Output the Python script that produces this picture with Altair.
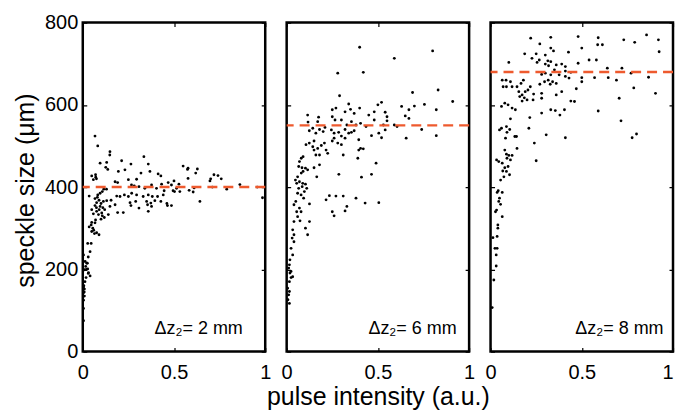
import altair as alt
import pandas as pd

# ---------------- data ----------------
panel_labels = ["\u0394z\u2082= 2 mm", "\u0394z\u2082= 6 mm", "\u0394z\u2082= 8 mm"]
ref_levels = [400, 550, 680]

p1_x = [0.067, 0.082, 0.149, 0.148, 0.095, 0.213, 0.264, 0.335, 0.359, 0.131, 0.126, 0.137, 0.195, 0.231, 0.368,
        0.049, 0.071, 0.058, 0.319, 0.25, 0.295, 0.413, 0.428, 0.55, 0.574, 0.577, 0.177, 0.191, 0.267, 0.282,
        0.308, 0.34, 0.377, 0.404, 0.432, 0.468, 0.486, 0.514, 0.532, 0.495, 0.446, 0.107, 0.095, 0.082, 0.035,
        0.186, 0.204, 0.228, 0.25, 0.268, 0.295, 0.331, 0.359, 0.381, 0.41, 0.441, 0.067, 0.089, 0.076, 0.113,
        0.131, 0.155, 0.259, 0.29, 0.35, 0.373, 0.395, 0.428, 0.067, 0.095, 0.149, 0.177, 0.264, 0.308, 0.355,
        0.377, 0.464, 0.486, 0.049, 0.076, 0.104, 0.058, 0.086, 0.107, 0.118, 0.1, 0.14, 0.191, 0.222, 0.359,
        0.049, 0.046, 0.067, 0.035, 0.049, 0.064, 0.076, 0.089, 0.027, 0.046, 0.04, 0.004, 0.013, 0.022, 0.016,
        0.027, 0.009, 0.031, 0.04, 0.004, 0.009, 0.004, 0.009, 0.004, 0.004,
        0.577, 0.628, 0.619, 0.701, 0.697, 0.719, 0.741, 0.759, 0.71, 0.789, 0.861, 0.956, 0.985, 0.642, 0.61,
        0.583, 0.605, 0.5, 0.527, 0.503, 0.461,
        0.02, 0.025, 0.03, 0.018, 0.012, 0.006, 0.004, 0.008, 0.03, 0.055, 0.06, 0.07, 0.075, 0.08, 0.09, 0.1,
        0.11, 0.12, 0.115, 0.13, 0.07, 0.075]
p1_y = [524, 500, 486, 478, 458, 464, 456, 474, 456, 460, 448, 443, 438, 442, 438,
        427, 424, 418, 434, 418, 419, 432, 427, 451, 443, 421, 413, 411, 405, 403,
        401, 397, 405, 397, 407, 411, 405, 397, 389, 391, 391, 389, 385, 381, 378,
        378, 377, 381, 377, 385, 381, 377, 381, 377, 377, 381, 372, 368, 362, 365,
        367, 368, 362, 365, 365, 361, 367, 365, 355, 353, 353, 357, 355, 349, 357,
        353, 355, 355, 345, 341, 337, 335, 333, 330, 326, 322, 333, 338, 338, 341,
        314, 308, 313, 303, 292, 287, 289, 284, 263, 263, 243, 235, 219, 215, 207,
        201, 199, 192, 184, 156, 152, 143, 135, 105, 75,
        446, 444, 434, 420, 415, 430, 428, 420, 400, 395, 406, 400, 374, 365, 398,
        392, 388, 415, 407, 389, 360,
        200, 215, 190, 180, 170, 160, 125, 145, 230, 300, 295, 320, 350, 375, 345, 360,
        350, 345, 395, 395, 430, 420]

p2_x = [0.40, 0.80, 0.59, 0.28, 0.42, 0.29, 0.69, 0.83, 0.52, 0.50, 0.91, 0.755, 0.82, 0.34, 0.40, 0.35, 0.63,
        0.67, 0.70, 0.25, 0.27, 0.32, 0.37, 0.45, 0.48, 0.54, 0.55, 0.48, 0.55, 0.65, 0.67, 0.115, 0.175, 0.17,
        0.25, 0.265, 0.30, 0.33, 0.355, 0.38, 0.405, 0.435, 0.53, 0.59, 0.605, 0.74, 0.82, 0.655, 0.505, 0.54,
        0.465, 0.52, 0.117, 0.124, 0.143, 0.16, 0.18, 0.20, 0.21, 0.245, 0.26, 0.285, 0.30, 0.32, 0.34, 0.355,
        0.37, 0.32, 0.26, 0.25, 0.28, 0.30, 0.31, 0.395, 0.405, 0.395, 0.42, 0.39, 0.106, 0.124, 0.143, 0.15,
        0.17, 0.19, 0.216, 0.225, 0.18, 0.16, 0.15, 0.207, 0.49, 0.465, 0.41, 0.286, 0.18, 0.15, 0.165, 0.08,
        0.09, 0.07, 0.066, 0.084, 0.103, 0.115, 0.09, 0.08, 0.06, 0.048, 0.055, 0.07, 0.088, 0.103, 0.11, 0.097,
        0.085, 0.066, 0.06, 0.079, 0.125, 0.093, 0.05, 0.216, 0.234, 0.27, 0.31, 0.38, 0.43, 0.505, 0.33, 0.32,
        0.25, 0.26, 0.07, 0.04, 0.055, 0.079, 0.06, 0.073, 0.125, 0.103, 0.115, 0.04, 0.033, 0.04, 0.03, 0.04,
        0.024, 0.033, 0.018, 0.015, 0.011, 0.024, 0.033, 0.015, 0.005, 0.015, 0.011, 0.007, 0.015, 0.024, 0.018]
p2_y = [740, 731, 713, 677, 679, 622, 630, 636, 606, 600, 608, 601, 588, 602, 592, 589, 596,
        588, 597, 588, 592, 583, 579, 575, 583, 582, 571, 563, 561, 573, 567, 575, 570, 559,
        571, 563, 563, 551, 559, 551, 555, 547, 551, 551, 547, 540, 525, 519, 531, 539,
        525, 520, 558, 537, 543, 531, 540, 535, 545, 539, 531, 533, 524, 540, 531, 533,
        537, 519, 519, 512, 507, 503, 478, 515, 494, 490, 493, 470, 503, 507, 498, 490,
        494, 501, 490, 482, 478, 478, 512, 507, 458, 431, 424, 431, 454, 447, 425, 470,
        474, 462, 450, 447, 446, 442, 438, 434, 425, 417, 409, 413, 409, 407, 397, 389,
        401, 397, 385, 381, 359, 373, 365, 369, 379, 378, 378, 373, 361, 362, 353, 342,
        340, 330, 349, 357, 340, 340, 328, 318, 316, 300, 284, 316, 296, 284, 276, 267,
        251, 235, 223, 211, 203, 195, 182, 170, 154, 146, 138, 126, 117, 180, 191]

p3_x = [0.22, 0.33, 0.48, 0.59, 0.855, 0.92, 0.73, 0.79, 0.27, 0.33, 0.345, 0.50, 0.587, 0.613, 0.924, 0.427,
        0.187, 0.25, 0.30, 0.227, 0.255, 0.267, 0.314, 0.33, 0.30, 0.318, 0.36, 0.39, 0.41, 0.54, 0.58, 0.48,
        0.10, 0.35, 0.41, 0.44, 0.50, 0.50, 0.28, 0.30, 0.33, 0.376, 0.41, 0.43, 0.34, 0.36, 0.316, 0.327,
        0.296, 0.27, 0.64, 0.69, 0.72, 0.77, 0.645, 0.57, 0.866, 0.785, 0.904, 0.705, 0.715, 0.776, 0.80,
        0.59, 0.41, 0.305, 0.24, 0.25, 0.21, 0.215, 0.28, 0.33, 0.355, 0.38, 0.405, 0.44, 0.46, 0.47, 0.39,
        0.36, 0.28, 0.28, 0.236, 0.233, 0.20, 0.205, 0.218, 0.18, 0.167, 0.155, 0.16, 0.173, 0.145, 0.19,
        0.173, 0.185, 0.118, 0.085, 0.064, 0.069, 0.109, 0.087, 0.078, 0.096, 0.118, 0.136, 0.06, 0.109,
        0.087, 0.06, 0.049, 0.105, 0.09, 0.133, 0.142, 0.082, 0.145, 0.078, 0.087, 0.10, 0.118, 0.09, 0.109,
        0.033, 0.045, 0.064, 0.078, 0.096, 0.067, 0.087, 0.104, 0.073, 0.055, 0.042, 0.036, 0.064, 0.049,
        0.045, 0.055, 0.033, 0.027, 0.064, 0.04, 0.04, 0.036, 0.013, 0.024, 0.036, 0.031, 0.031, 0.018, 0.009]
p3_y = [762, 764, 766, 763, 770, 758, 758, 752, 748, 738, 731, 738, 746, 746, 729, 728,
        724, 724, 721, 713, 703, 709, 707, 705, 699, 695, 697, 699, 693, 709, 709, 701,
        703, 685, 682, 679, 666, 656, 674, 677, 673, 673, 669, 665, 656, 652, 660, 650,
        656, 650, 689, 660, 689, 677, 666, 666, 667, 641, 628, 616, 561, 520, 529,
        585, 520, 527, 507, 464, 543, 569, 580, 588, 586, 575, 588, 609, 608, 639, 632,
        624, 628, 616, 626, 612, 612, 636, 644, 660, 652, 632, 620, 609, 644, 632,
        624, 617, 644, 660, 660, 644, 656, 644, 604, 600, 592, 588, 596, 566,
        547, 543, 539, 540, 533, 523, 523, 519, 494, 490, 480, 477, 477, 470, 466,
        466, 462, 458, 447, 450, 439, 438, 430, 425, 417, 391, 387, 387, 373,
        365, 358, 344, 340, 328, 308, 300, 280, 277, 251, 251, 235, 208, 174, 107]

panels_x = [p1_x, p2_x, p3_x]
panels_y = [p1_y, p2_y, p3_y]

x_ticks = [0, 0.5, 1]
y_ticks = [0, 200, 400, 600, 800]

# ---------------- styling ----------------
W, H = 183, 330
TICK = 4
FONT = "Liberation Sans"
label_pos = [(72, 312), (82, 312), (85, 312)]
x_title = ["", "pulse intensity (a.u.)", ""]

panels = []
for i in range(3):
    df = pd.DataFrame({"intensity": panels_x[i], "size": panels_y[i]})
    if i == 2:
        x_align = alt.condition("datum.value == 1", alt.value("right"), alt.value("center"))
    else:
        x_align = "center"
    xaxis = alt.Axis(values=x_ticks, format="~g", labelFlush=False, labelAlign=x_align,
                     ticks=False, tickSize=0,
                     domain=False, labelPadding=11, grid=True, gridColor="black", gridWidth=1.2,
                     gridDash=[TICK, H - 2 * TICK, TICK, 1000],
                     title=x_title[i] if x_title[i] else None,
                     titleBaseline="alphabetic", titleY=53)
    if i == 0:
        yaxis = alt.Axis(values=y_ticks, labelFlush=False, ticks=False, tickSize=0, domain=False,
                         labelPadding=5, grid=True, gridColor="black", gridWidth=1.2,
                         gridDash=[TICK, W - 2 * TICK, TICK, 1000],
                         title="speckle size (\u03bcm)", titleBaseline="middle", titleX=-57,
                         titleY=H / 2 + 3, titleAngle=-90, titleAlign="center")
    else:
        yaxis = alt.Axis(values=y_ticks, labels=False, ticks=False, tickSize=0, domain=False,
                         grid=True, gridColor="black", gridWidth=1.2,
                         gridDash=[TICK, W - 2 * TICK, TICK, 1000], title=None)
    xs = alt.Scale(domain=[0, 1], nice=False)
    ys = alt.Scale(domain=[0, 800], nice=False)

    pts = alt.Chart(df).mark_circle(size=8, color="black", opacity=1).encode(
        x=alt.X("intensity:Q", scale=xs, axis=xaxis),
        y=alt.Y("size:Q", scale=ys, axis=yaxis),
    )
    rule = alt.Chart(pd.DataFrame({"ref": [ref_levels[i]]})).mark_rule(
        color="#EE5A2E", strokeWidth=2.5, strokeDash=[10, 6]
    ).encode(y=alt.Y("ref:Q", scale=ys))
    txt = alt.Chart(pd.DataFrame({"lab": [panel_labels[i]]})).mark_text(
        align="left", baseline="alphabetic", font=FONT, fontSize=18, color="black"
    ).encode(text="lab:N", x=alt.value(label_pos[i][0]), y=alt.value(label_pos[i][1]))
    panels.append(alt.layer(pts, rule, txt).properties(width=W, height=H))

chart = alt.hconcat(*panels, spacing=21.5, bounds="flush").properties(
    padding={"left": 4, "top": 2, "right": 0, "bottom": 0}
).configure_view(
    stroke="black", strokeWidth=2.5
).configure_axis(
    labelFont=FONT, labelFontSize=20, labelColor="black",
    titleFont=FONT, titleFontSize=25, titleFontWeight="normal", titleColor="black"
)

chart.save("out.html", embed_options={"renderer": "svg", "actions": False})
